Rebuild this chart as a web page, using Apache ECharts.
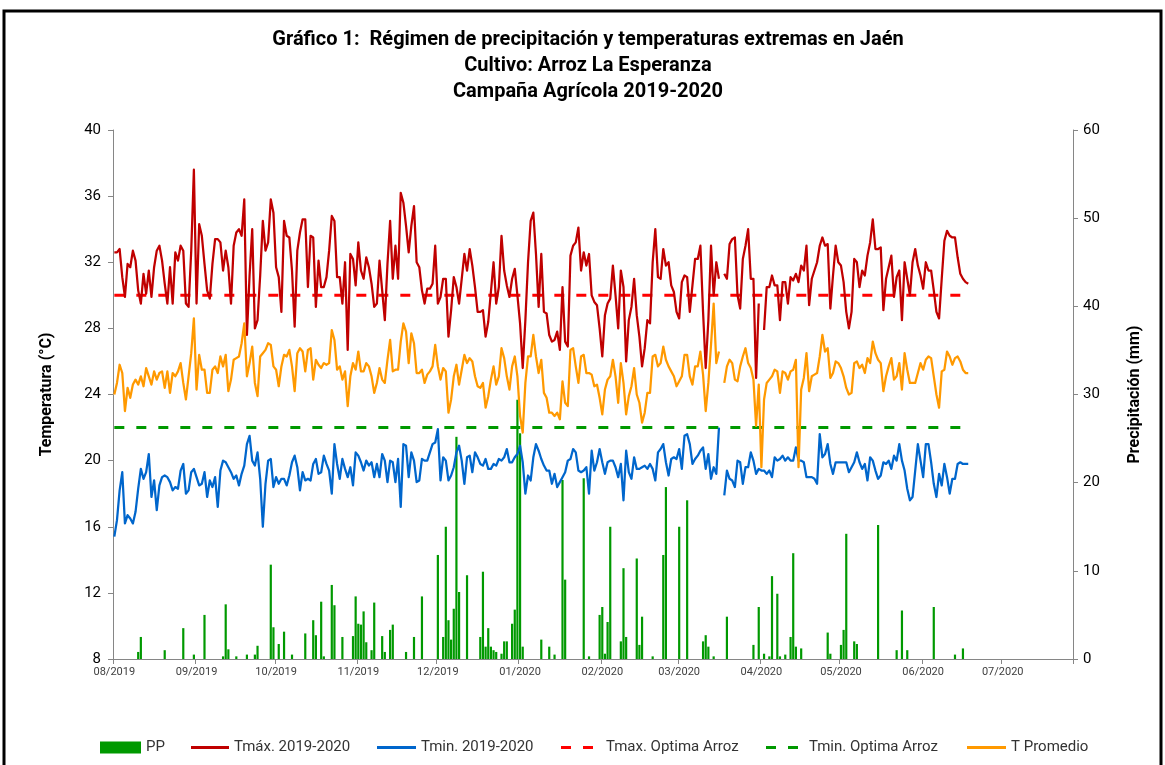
<!DOCTYPE html>
<html>
<head>
<meta charset="utf-8">
<title>Régimen de precipitación y temperaturas extremas en Jaén</title>
<script src="https://cdn.jsdelivr.net/npm/echarts@6/dist/echarts.min.js"></script>
<style>
  html, body { margin: 0; padding: 0; background: #fff; }
  #chart { width: 1165px; height: 765px; }
</style>
</head>
<body>
<div id="chart"></div>
<script>
// Datos diarios desde 01/08/2019 (día 0) hasta 18/06/2020 (día 322)
var monthLabels = ['08/2019', '09/2019', '10/2019', '11/2019', '12/2019', '01/2020',
                   '02/2020', '03/2020', '04/2020', '05/2020', '06/2020', '07/2020'];

var tmaxOptimo = 30;
var tminOptimo = 22;

var tmax = [
  32.6, 32.6, 32.8, 31.1, 29.9, 31.9, 31.7, 32.7, 32.1, 30.3,
  29.5, 31.3, 30.1, 31.5, 29.9, 31.7, 32.7, 33.0, 32.1, 30.7,
  29.5, 31.7, 29.5, 32.6, 32.1, 33.0, 32.7, 29.5, 29.3, 32.7,
  37.6, 29.5, 34.3, 33.6, 31.9, 30.3, 29.8, 31.9, 33.4, 33.4,
  33.2, 31.5, 32.7, 31.7, 29.5, 33.0, 33.8, 34.0, 33.6, 35.8,
  27.6, 31.2, 34.0, 28.0, 28.5, 31.2, 34.5, 32.7, 33.2, 35.8,
  35.0, 31.7, 31.1, 29.0, 34.5, 33.6, 33.5, 31.5, 28.1, 32.7,
  33.8, 34.6, 34.6, 30.5, 33.6, 33.5, 29.3, 32.1, 30.5, 30.5,
  31.1, 32.7, 34.8, 34.5, 31.1, 31.1, 29.5, 32.0, 26.7, 32.5,
  32.2, 30.6, 33.2, 31.5, 31.0, 32.3, 31.7, 30.7, 29.3, 29.5,
  32.1, 30.3, 28.5, 31.9, 34.5, 31.0, 33.0, 31.0, 36.2, 35.6,
  34.2, 32.6, 34.2, 35.4, 32.0, 31.7, 30.3, 29.5, 30.4, 30.4,
  30.7, 33.0, 29.5, 29.9, 31.0, 31.0, 27.5, 29.1, 31.1, 30.5,
  29.5, 31.0, 32.5, 31.5, 32.8, 31.8, 30.5, 29.0, 29.0, 29.1,
  27.5, 28.4, 30.2, 32.0, 29.5, 30.5, 33.6, 31.5, 30.6, 29.9,
  31.0, 31.6, 30.0, 28.3, 25.6, 28.5, 32.0, 34.5, 35.0, 32.5,
  29.3, 32.5, 29.0, 28.9, 27.6, 27.2, 27.3, 27.8, 26.7, 30.5,
  27.2, 26.9, 32.4, 33.0, 33.2, 34.1, 31.5, 32.6, 31.8, 32.5,
  30.0, 29.6, 29.4, 28.0, 26.3, 28.8, 29.5, 29.8, 31.8, 30.0,
  28.0, 31.5, 30.5, 26.0, 28.5, 29.3, 31.0, 28.8, 27.5, 25.7,
  26.8, 28.5, 28.3, 32.0, 34.0, 31.1, 31.0, 32.8, 31.8, 32.0,
  30.6, 30.2, 29.0, 28.6, 30.8, 31.2, 31.1, 29.0, 30.6, 32.2,
  32.2, 33.0, 29.0, 25.6, 28.5, 33.0, 30.0, 32.0, 31.0, null,
  31.3, 31.0, 33.1, 33.4, 33.5, 30.0, 29.2, 32.2, 33.0, 34.0,
  31.0, 31.0, 25.0, 29.5, null, 27.9, 30.5, 30.5, 31.2, 30.6,
  30.6, 28.5, 30.8, 30.8, 29.5, 31.1, 30.9, 31.3, 30.8, 31.8,
  31.5, 33.0, 29.4, 31.0, 31.5, 32.0, 33.0, 33.5, 33.0, 33.1,
  29.2, 31.2, 33.0, 32.0, 31.8, 30.8, 29.0, 28.0, 29.0, 32.2,
  32.0, 30.5, 31.5, 31.2, 32.4, 33.2, 34.6, 32.8, 32.8, 32.9,
  29.1, 31.0, 31.7, 32.4, 29.9, 31.1, 31.5, 28.5, 32.0, 31.0,
  30.0, 32.0, 32.8, 31.8, 31.2, 30.4, 32.0, 31.5, 31.5, 30.3,
  29.0, 28.6, 31.0, 33.3, 33.9, 33.6, 33.5, 33.5, 32.3, 31.3,
  31.0, 30.8, 30.7
];

var tmin = [
  15.4, 16.4, 18.2, 19.3, 16.2, 16.7, 16.5, 16.2, 16.9, 18.3,
  19.5, 18.9, 19.3, 20.4, 17.8, 18.8, 17.0, 18.5, 19.0, 19.1,
  19.0, 18.7, 18.2, 18.4, 18.3, 19.4, 19.8, 18.0, 18.2, 19.3,
  19.5, 19.0, 18.5, 18.6, 19.3, 17.8, 18.8, 18.4, 19.0, 17.2,
  19.4, 20.0, 19.9, 19.6, 19.3, 18.9, 19.1, 18.5, 19.2, 19.7,
  21.0, 21.5, 20.0, 19.7, 20.5, 18.9, 16.0, 18.6, 20.0, 20.1,
  18.4, 19.0, 18.6, 18.9, 18.9, 18.5, 19.1, 19.9, 20.3, 19.6,
  18.2, 19.3, 18.8, 18.9, 18.8, 19.8, 20.1, 19.2, 19.3, 20.3,
  19.8, 19.4, 18.0, 21.0, 19.8, 18.9, 20.1, 19.5, 19.0, 19.6,
  18.5, 20.5, 20.3, 19.9, 19.4, 20.0, 19.7, 19.9, 19.0, 19.8,
  19.0, 20.4, 20.0, 18.7, 20.0, 19.9, 18.7, 20.1, 17.2, 21.0,
  20.9, 19.0, 20.5, 20.0, 18.7, 18.8, 20.1, 20.0, 20.0, 20.5,
  21.0, 21.1, 21.9, 18.8, 20.2, 20.0, 18.8, 19.1, 19.6, 20.5,
  20.9, 20.0, 18.6, 20.2, 20.3, 19.3, 20.5, 20.2, 19.8, 19.7,
  20.1, 19.5, 19.5, 19.8, 19.7, 20.1, 20.0, 20.2, 20.7, 19.9,
  19.9, 20.2, 20.4, 20.9, 19.9, 18.0, 19.1, 18.8, 20.2, 21.0,
  20.6, 20.1, 19.7, 19.4, 19.4, 18.6, 19.2, 18.4, 18.7, 19.0,
  19.3, 20.0, 20.1, 20.7, 20.5, 19.4, 19.3, 19.4, 19.6, 18.0,
  20.6, 19.4, 19.9, 20.7, 19.9, 19.2, 19.9, 20.0, 20.0, 19.6,
  19.0, 19.8, 17.6, 20.6, 19.3, 18.9, 20.2, 19.5, 19.5, 19.6,
  19.7, 19.5, 19.8, 19.5, 18.8, 20.5, 20.7, 21.0, 19.9, 19.1,
  20.1, 20.2, 20.1, 20.7, 19.5, 21.5, 21.6, 21.0, 19.8, 20.1,
  20.3, 20.6, 20.8, 19.5, 20.4, 18.9, 19.6, 19.2, 22.0, null,
  17.9, 19.4, 18.9, 18.8, 18.4, 20.0, 19.9, 18.6, 19.6, 19.6,
  20.5, 20.0, 19.2, 19.5, 19.4, 19.4, 19.2, 19.4, 19.0, 20.2,
  20.0, 20.1, 20.3, 20.0, 20.2, 20.0, 20.0, 20.8, 20.0, 20.0,
  19.9, 19.0, 19.0, 19.0, 18.9, 18.6, 21.6, 20.2, 20.4, 21.0,
  19.8, 19.2, 19.9, 19.9, 19.9, 19.9, 19.9, 19.3, 19.6, 19.9,
  20.5, 19.9, 19.5, 19.8, 18.8, 20.2, 20.0, 19.4, 18.9, 19.1,
  19.9, 19.8, 20.0, 19.5, 20.3, 20.0, 21.0, 20.0, 19.4, 18.3,
  17.6, 17.8, 19.4, 21.0, 20.0, 19.0, 21.0, 21.0, 19.9, 18.6,
  17.8, 19.2, 18.5, 19.8, 19.0, 18.0, 18.9, 18.9, 19.8, 19.9,
  19.8, 19.8, 19.8
];

var tprom = [
  24.0, 24.7, 25.8, 25.3, 23.0, 24.4, 23.8, 24.6, 24.9, 24.6,
  25.1, 24.5, 25.6, 25.1, 24.6, 25.4, 24.9, 25.3, 25.4, 24.4,
  25.4, 24.1, 25.3, 25.1, 25.4, 25.9, 24.7, 23.7, 25.1, 26.5,
  28.6, 24.3, 26.4, 25.5, 25.5, 24.1, 24.1, 25.5, 25.7, 25.3,
  26.3, 25.7, 26.4, 24.2, 24.9, 26.1, 26.2, 26.3, 27.1, 28.3,
  25.1, 25.9, 26.9, 24.7, 23.9, 26.3, 26.5, 26.7, 27.1, 27.0,
  25.7, 25.5, 24.5, 25.7, 26.4, 26.3, 26.7, 25.7, 24.2, 26.5,
  26.8, 26.6, 25.4, 26.7, 26.8, 24.9, 26.1, 25.8, 25.6, 25.9,
  25.8, 25.9, 27.9, 27.3, 25.5, 25.7, 24.9, 25.4, 23.3, 25.1,
  25.9, 25.5, 26.6, 25.4, 25.4, 25.9, 25.7, 25.1, 24.1, 24.7,
  25.6, 24.9, 24.7, 26.1, 27.3, 25.4, 25.5, 25.5, 27.2, 28.3,
  27.8, 25.9, 27.7, 27.1, 25.3, 25.3, 25.5, 24.7, 25.2, 25.4,
  25.7, 27.0, 25.7, 24.9, 25.6, 25.4, 22.9, 23.7, 25.1, 25.8,
  24.6, 25.5, 26.4, 25.9, 26.2, 26.0, 25.1, 24.5, 24.4, 24.7,
  23.2, 23.9, 24.9, 25.7, 24.6, 25.1, 26.8, 26.2, 25.1, 24.3,
  25.7, 26.3, 25.1, 22.7, 21.7, 24.7, 26.3, 26.3, 27.6, 26.3,
  25.3, 26.1, 24.1, 23.8, 22.9, 22.9, 22.7, 22.9, 22.5, 24.8,
  23.5, 23.3, 26.7, 26.8, 25.7, 24.7, 26.3, 26.4, 25.3, 25.3,
  25.2, 24.5, 24.6, 23.8, 22.8, 24.3, 24.9, 25.1, 26.1, 25.1,
  23.5, 25.9, 24.7, 22.8, 23.9, 24.5, 25.6, 24.0, 23.5, 22.3,
  22.9, 24.1, 24.1, 26.3, 26.4, 25.7, 25.9, 26.9, 26.1, 25.7,
  25.4, 25.1, 24.5, 24.8, 25.1, 26.4, 26.4, 25.1, 24.6, 25.7,
  25.7, 26.6, 25.2, 23.0, 24.7, 27.0, 29.5, 25.9, 26.6, null,
  24.7, 25.7, 26.1, 25.9, 24.9, 24.8, 25.7, 26.3, 26.8, 25.9,
  25.6, 24.9, 22.1, 24.6, 19.6, 23.7, 24.7, 24.9, 25.1, 25.5,
  25.4, 24.1, 25.4, 25.3, 24.9, 25.4, 25.5, 26.1, 19.6, 24.3,
  25.0, 26.5, 24.2, 25.1, 25.2, 25.3, 26.3, 27.6, 26.6, 26.8,
  25.0, 25.3, 26.0, 25.9, 25.6, 25.1, 24.4, 24.0, 24.1, 25.9,
  26.0, 25.6, 25.8, 25.3, 26.2, 25.9, 27.2, 26.5, 26.1, 25.9,
  24.2, 25.1, 25.7, 26.2, 24.9, 25.1, 25.9, 24.3, 26.5, 25.5,
  24.7, 24.7, 24.7, 25.3, 25.9, 25.5, 26.1, 26.3, 26.2, 25.1,
  24.0, 23.2, 25.4, 25.5, 26.6, 26.3, 25.8, 26.2, 26.3, 26.0,
  25.5, 25.3, 25.3
];

var pp = [
  0, 0, 0, 0, 0, 0, 0, 0, 0, 0.8,
  2.5, 0, 0, 0, 0, 0, 0, 0, 0, 1.0,
  0, 0, 0, 0, 0, 0, 3.5, 0, 0, 0,
  0.5, 0, 0, 0, 5.0, 0, 0, 0, 0, 0,
  0, 0.3, 6.2, 1.1, 0, 0, 0.3, 0, 0, 0,
  0.5, 0, 0, 0.5, 1.5, 0, 0, 0, 0, 10.7,
  3.6, 0, 1.7, 0, 3.1, 0, 0, 0.5, 0, 0,
  0, 0, 2.9, 0, 0, 4.4, 2.7, 0, 6.5, 0.3,
  0, 0, 8.4, 6.1, 0, 0, 2.5, 0, 0, 0,
  2.6, 7.1, 4.0, 3.9, 5.4, 1.9, 0, 1.0, 6.4, 0,
  0, 2.6, 0.8, 0, 3.3, 3.9, 0, 0, 0, 0,
  0.8, 0, 0, 2.5, 0, 0, 7.1, 0, 0, 0,
  0, 0, 11.8, 0, 2.5, 15.0, 4.4, 2.2, 5.7, 25.2,
  7.6, 0, 0, 9.5, 0, 0, 0, 0, 2.5, 9.9,
  1.4, 3.5, 1.4, 1.0, 0.8, 0, 0.6, 2.0, 2.0, 0,
  4.0, 5.6, 29.4, 25.6, 1.4, 0, 0, 0, 0, 0,
  0, 2.2, 0, 0, 1.4, 0, 0.5, 0, 0, 20.3,
  9.0, 0, 0, 0, 0, 0, 0, 20.5, 0, 0.3,
  0, 0, 0, 5.0, 5.9, 0.6, 4.2, 15.0, 0, 0,
  0, 2.0, 10.3, 2.5, 0, 0, 0, 11.4, 1.6, 4.8,
  0, 0, 0, 0.3, 0, 0, 0, 11.8, 19.5, 0,
  0, 0, 0, 15.0, 0, 0, 18.0, 0, 0, 0,
  0, 0, 2.0, 2.7, 1.4, 0, 0.3, 0, 0, 0,
  0, 4.8, 0, 0, 0, 0, 0, 0, 0, 0,
  0, 1.6, 0, 5.9, 0, 0.6, 0, 0.3, 9.4, 0,
  7.4, 0.3, 0, 0.5, 0, 2.5, 12.0, 1.4, 0, 1.2,
  0, 0, 0, 0, 0, 0, 0, 0, 0, 3.0,
  0.6, 0, 0, 0, 1.6, 3.3, 14.2, 0, 0, 2.0,
  1.7, 0, 0, 0, 0, 0, 0, 0, 15.2, 0,
  0, 0, 0, 0, 0, 1.0, 0, 5.5, 0, 1.0,
  0, 0, 0, 0, 0, 0, 0, 0, 0, 5.9,
  0, 0, 0, 0, 0, 0, 0, 0.5, 0, 0,
  1.2, 0, 0
];

// eje de fechas: un día por categoría, 01/08/2019 .. 27/07/2020
var dates = [];
for (var i = 0; i < 362; i++) {
    var d = new Date(Date.UTC(2019, 7, 1 + i));
    dates.push(d.toISOString().slice(0, 10));
}
var lastDay = tmax.length - 1;

var FONT = "'Liberation Sans Narrow', 'Arial Narrow', Roboto, sans-serif";

function isMonthStart(index, value) {
    return value.slice(8, 10) === '01';
}

function monthLabel(value) {
    var m = (+value.slice(0, 4) - 2019) * 12 + (+value.slice(5, 7)) - 8;
    return monthLabels[m] || '';
}

// iconos de la leyenda: línea continua y línea discontinua
var ICON_DASH = 'path://M0,0H10V3H0Z M22,0H32V3H22Z';

function legendItem(name, left, icon, w, h, pad) {
    return {
        data: [name], left: left - 5, top: 735,
        icon: icon, itemWidth: w, itemHeight: h,
        textStyle: { fontSize: 15, color: '#333', fontFamily: FONT, padding: [0, 0, 0, pad || 0] }
    };
}

var chart = echarts.init(document.getElementById('chart'));

var option = {
    animation: false,
    backgroundColor: '#fff',
    textStyle: { fontFamily: FONT },
    graphic: [
        {
            type: 'rect',
            shape: { x: 4, y: 11, width: 1157, height: 800 },
            style: { fill: 'none', stroke: '#000', lineWidth: 3 },
            silent: true
        },
        {
            type: 'text', x: 588, y: 40,
            style: { text: 'Gráfico 1:  Régimen de precipitación y temperaturas extremas en Jaén',
                     align: 'center', verticalAlign: 'middle',
                     fontSize: 20, fontWeight: 'bold', fontFamily: FONT, fill: '#000' }
        },
        {
            type: 'text', x: 588, y: 66,
            style: { text: 'Cultivo: Arroz La Esperanza',
                     align: 'center', verticalAlign: 'middle',
                     fontSize: 20, fontWeight: 'bold', fontFamily: FONT, fill: '#000' }
        },
        {
            type: 'text', x: 588, y: 92,
            style: { text: 'Campaña Agrícola 2019-2020',
                     align: 'center', verticalAlign: 'middle',
                     fontSize: 20, fontWeight: 'bold', fontFamily: FONT, fill: '#000' }
        }
    ],
    legend: [
        legendItem('PP', 100, 'rect', 41, 12, 0),
        legendItem('Tmáx. 2019-2020', 191, 'rect', 38, 3, 0),
        legendItem('Tmin. 2019-2020', 377, 'rect', 39, 3, 0),
        legendItem('Tmax. Optima Arroz', 561, ICON_DASH, 32, 3, 8),
        legendItem('Tmin. Optima Arroz', 766, ICON_DASH, 32, 3, 6),
        legendItem('T Promedio', 967, 'rect', 39, 3, 0)
    ],
    grid: { left: 113, right: 92, top: 130, bottom: 106, containLabel: false },
    xAxis: {
        type: 'category',
        data: dates,
        boundaryGap: true,
        axisLine: { lineStyle: { color: '#868686', width: 1 } },
        axisTick: { show: true, length: 5, interval: isMonthStart, lineStyle: { color: '#868686' } },
        axisLabel: { interval: isMonthStart, formatter: monthLabel, fontSize: 11,
                     color: '#404040', margin: 8, fontFamily: FONT },
        splitLine: { show: false }
    },
    yAxis: [
        {
            type: 'value', position: 'left', min: 8, max: 40, interval: 4,
            name: 'Temperatura (°C)', nameLocation: 'middle', nameGap: 58, nameRotate: 90,
            nameTextStyle: { fontSize: 16, fontWeight: 'bold', color: '#000', fontFamily: FONT },
            axisLine: { show: true, lineStyle: { color: '#868686' } },
            axisTick: { show: true, length: 5, lineStyle: { color: '#868686' } },
            axisLabel: { fontSize: 15, color: '#000', margin: 12, fontFamily: FONT },
            splitLine: { show: false }
        },
        {
            type: 'value', position: 'right', min: 0, max: 60, interval: 10,
            name: 'Precipitación (mm)', nameLocation: 'middle', nameGap: 54, nameRotate: 90,
            nameTextStyle: { fontSize: 16, fontWeight: 'bold', color: '#000', fontFamily: FONT },
            axisLine: { show: true, lineStyle: { color: '#868686' } },
            axisTick: { show: true, length: 5, lineStyle: { color: '#868686' } },
            axisLabel: { fontSize: 15, color: '#000', margin: 10, fontFamily: FONT },
            splitLine: { show: false }
        }
    ],
    series: [
        {
            name: 'PP', type: 'bar', yAxisIndex: 1, data: pp,
            barWidth: 2.2, itemStyle: { color: '#009900' }, z: 1
        },
        {
            name: 'Tmáx. 2019-2020', type: 'line', yAxisIndex: 0, data: tmax,
            symbol: 'none', itemStyle: { color: '#C00000' },
            lineStyle: { color: '#C00000', width: 2.25, join: 'round' }, z: 3
        },
        {
            name: 'Tmin. 2019-2020', type: 'line', yAxisIndex: 0, data: tmin,
            symbol: 'none', itemStyle: { color: '#0066CC' },
            lineStyle: { color: '#0066CC', width: 2.25, join: 'round' }, z: 3
        },
        {
            name: 'Tmax. Optima Arroz', type: 'line', yAxisIndex: 0,
            data: [[dates[0], tmaxOptimo], [dates[lastDay], tmaxOptimo]],
            symbol: 'none', itemStyle: { color: '#FF0000' },
            lineStyle: { color: '#FF0000', width: 3, type: [10, 12] }, z: 2
        },
        {
            name: 'Tmin. Optima Arroz', type: 'line', yAxisIndex: 0,
            data: [[dates[0], tminOptimo], [dates[lastDay], tminOptimo]],
            symbol: 'none', itemStyle: { color: '#009900' },
            lineStyle: { color: '#009900', width: 3, type: [10, 12] }, z: 2
        },
        {
            name: 'T Promedio', type: 'line', yAxisIndex: 0, data: tprom,
            symbol: 'none', itemStyle: { color: '#FF9900' },
            lineStyle: { color: '#FF9900', width: 2.25, join: 'round' }, z: 3
        }
    ]
};

chart.setOption(option);
</script>
</body>
</html>
